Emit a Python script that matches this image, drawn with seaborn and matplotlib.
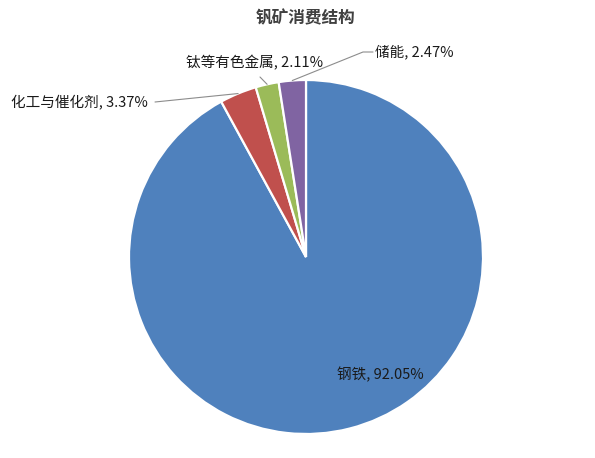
import matplotlib
matplotlib.use("Agg")
import matplotlib.pyplot as plt
import seaborn as sns
import numpy as np

categories = ["钢铁", "化工与催化剂", "钛等有色金属", "储能"]
shares = [92.05, 3.37, 2.11, 2.47]
colors_hex = ["#4F81BD", "#C0504D", "#9BBB59", "#8064A2"]
title = "钒矿消费结构"

sns.set_theme(style="white")
plt.rcParams['font.family'] = ['Noto Sans CJK SC', 'DejaVu Sans']

palette = sns.color_palette(colors_hex)

W, H = 595, 458
fig = plt.figure(figsize=(W / 100, H / 100), dpi=100)
cx, cy, R = 306, 257, 177
ax = fig.add_axes([(cx - R) / W, (H - cy - R) / H, 2 * R / W, 2 * R / H])

wedges, _ = ax.pie(shares, colors=palette, startangle=90, counterclock=False,
                   wedgeprops=dict(edgecolor="white", linewidth=1.6))
ax.set_xlim(-1, 1)
ax.set_ylim(-1, 1)
ax.axis("off")

def px(x, y):
    return ((x - cx) / R, (cy - y) / R)

def mid(w):
    a = np.deg2rad((w.theta1 + w.theta2) / 2)
    return np.cos(a), np.sin(a)

fs = 10.5
tc = "#1a1a1a"
lc = "#8c8c8c"

# 钢铁 inside
tx, ty = px(380, 375)
ax.text(tx, ty, f"{categories[0]}, {shares[0]:.2f}%", ha="center", va="center",
        fontsize=fs, color=tc)

# 化工与催化剂
mx, my = mid(wedges[1])
sx, sy = px(155, 102)
ax.plot([sx, mx], [sy, my], color=lc, lw=0.8, clip_on=False)
tx, ty = px(148, 102)
ax.text(tx, ty, f"{categories[1]}, {shares[1]:.2f}%", ha="right", va="center",
        fontsize=fs, color=tc)

# 钛等有色金属
mx, my = mid(wedges[2])
sx, sy = px(260, 77)
ax.plot([sx, mx], [sy, my], color=lc, lw=0.8, clip_on=False)
tx, ty = px(255, 63)
ax.text(tx, ty, f"{categories[2]}, {shares[2]:.2f}%", ha="center", va="center",
        fontsize=fs, color=tc)

# 储能
mx, my = mid(wedges[3])
ex, ey = px(363, 52)
sx, sy = px(373, 52)
ax.plot([sx, ex, mx], [sy, ey, my], color=lc, lw=0.8, clip_on=False)
tx, ty = px(375, 52)
ax.text(tx, ty, f"{categories[3]}, {shares[3]:.2f}%", ha="left", va="center",
        fontsize=fs, color=tc)

fig.text(306 / W, 1 - 18 / H, title, ha="center", va="center", fontsize=12,
         fontweight="bold", color="#404040")

fig.savefig("out.png", dpi=100, facecolor="white")
